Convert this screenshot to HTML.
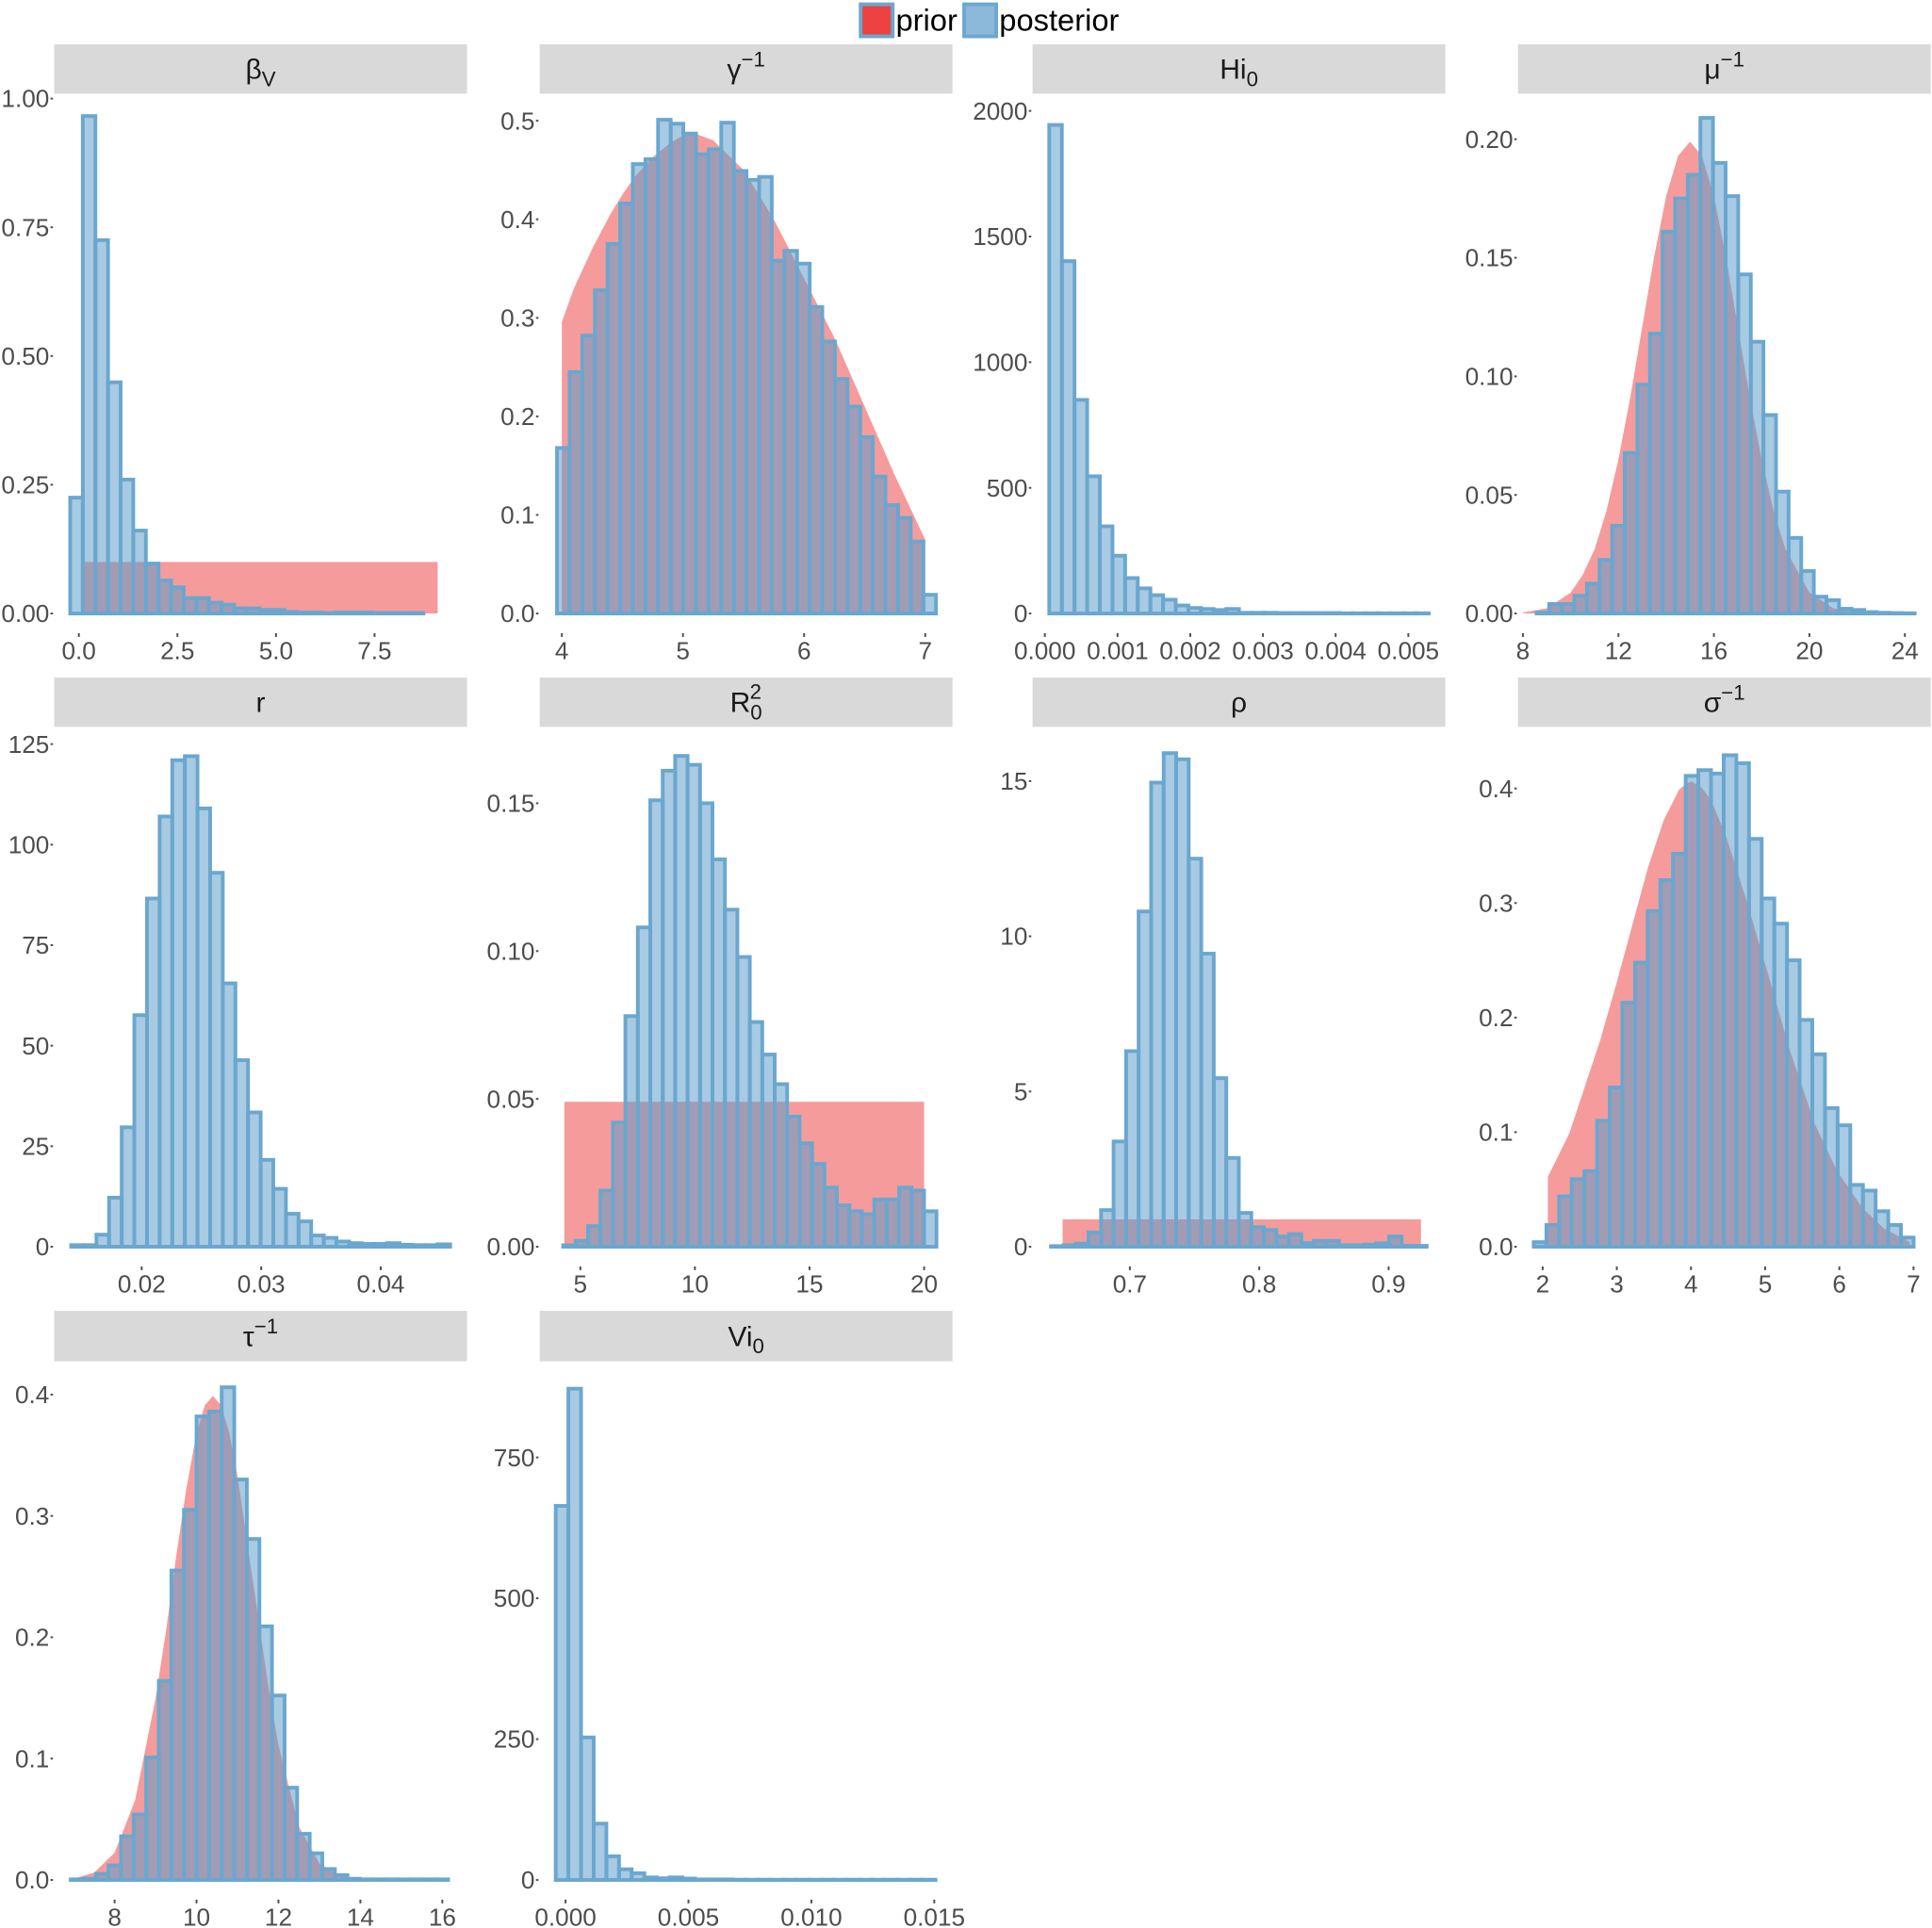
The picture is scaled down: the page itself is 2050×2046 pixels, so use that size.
<!DOCTYPE html>
<html><head><meta charset="utf-8"><style>
html,body{margin:0;padding:0;background:#fff;}
svg{display:block;}
text{font-family:"Liberation Sans",Arial,sans-serif;}
</style></head><body>
<svg id="chart" xmlns="http://www.w3.org/2000/svg" width="2050" height="2046" viewBox="0 0 1568 1565" preserveAspectRatio="none">
<g>
  <rect x="698.5" y="3.5" width="26" height="26" fill="#ee4242" stroke="#6ea7cf" stroke-width="3"/>
  <text x="727" y="25" font-size="25" fill="#000">prior</text>
  <rect x="782.5" y="3.5" width="26" height="26" fill="#8cb9da" stroke="#6ea7cf" stroke-width="3"/>
  <text x="811" y="25" font-size="25" fill="#000">posterior</text>
</g>
<g id="panels"></g>
</svg>
<script>
// ---- data: posterior histogram heights (30 bins each) ----
const betaCounts=[0.225,0.966,0.725,0.449,0.26,0.161,0.097,0.064,0.051,0.03,0.03,0.021,0.017,0.01,0.01,0.007,0.007,0.003,0.002,0.002,0.001,0.002,0.002,0.002,0.001,0.001,0.001,0.001,0,0];
const gammaCounts=[0.168,0.245,0.282,0.328,0.375,0.416,0.456,0.461,0.501,0.497,0.487,0.466,0.471,0.498,0.449,0.44,0.443,0.358,0.368,0.355,0.311,0.276,0.238,0.21,0.179,0.139,0.11,0.097,0.073,0.019];
const hiCounts=[1944,1402,850,546,347,230,141,100,73,55,32,22,18,14,18,3,3,3,2,2,2,2,2,1,1,1,1,1,1,1];
const muCounts=[0.0004,0.004,0.004,0.0075,0.0126,0.0226,0.037,0.0677,0.0965,0.118,0.161,0.175,0.185,0.209,0.19,0.176,0.143,0.1146,0.0837,0.0514,0.0319,0.0179,0.0071,0.0056,0.002,0.0015,0.0006,0.0003,0.0002,0.0001];
const rCounts=[0.4,0.4,3,12.2,29.7,57.6,86.6,107,121,122,109,93,65.5,46.4,33.4,21.6,14.4,8.2,6.3,2.8,2.2,1.3,0.9,0.7,0.7,0.9,0.5,0.4,0.4,0.6];
const r0Counts=[0.0005,0.002,0.007,0.019,0.042,0.078,0.108,0.151,0.161,0.166,0.163,0.150,0.131,0.114,0.098,0.076,0.065,0.055,0.044,0.035,0.028,0.020,0.014,0.012,0.011,0.016,0.016,0.020,0.019,0.012];
const rhoCounts=[0.02,0.05,0.1,0.46,1.18,3.39,6.3,10.8,14.95,15.9,15.7,12.5,9.44,5.43,2.86,1.09,0.63,0.54,0.33,0.41,0.12,0.19,0.19,0.05,0.05,0.07,0.11,0.33,0.03,0.03];
const sigmaCounts=[0.004,0.019,0.044,0.059,0.066,0.11,0.139,0.213,0.248,0.293,0.32,0.343,0.411,0.416,0.413,0.429,0.422,0.356,0.304,0.282,0.25,0.198,0.168,0.121,0.106,0.054,0.049,0.031,0.019,0.008];
const tauCounts=[0.0005,0.001,0.005,0.012,0.036,0.054,0.101,0.164,0.255,0.305,0.382,0.386,0.406,0.33,0.281,0.209,0.152,0.076,0.038,0.022,0.009,0.004,0.001,0.0005,0.0005,0.0005,0.0005,0.0005,0.0005,0.0005];
const viCounts=[664,872,253,100,42,19,12,4.5,3,4.5,2.5,1,1,1,0.5,0.5,0.5,0.5,0.5,0.5,0.5,0.5,0.5,0.5,0.5,0.5,0.5,0.5,0.5,0.5];
// ---- bin edges: start, width ----
const binStarts=[-0.22,3.96,0.00006,8.57,0.0141,4.25,0.639,1.88,6.93,-0.0004];
const binWidths=[0.32,0.1043,0.000174,0.528,0.001057,0.543,0.00968,0.1707,0.307,0.000515];
// ---- prior densities (x, y) ----
const betaPriorX=[0.1,9.1], betaPriorY=[0.1,0.1];
const gammaPriorX=[4,4.1,4.25,4.4,4.5,4.6,4.75,4.9,5,5.1,5.25,5.5,5.75,6,6.25,6.5,6.75,7];
const gammaPriorY=[0.296,0.33,0.37,0.405,0.425,0.443,0.463,0.478,0.485,0.487,0.48,0.45,0.4,0.34,0.28,0.21,0.14,0.075];
const muPriorX=[8,9,10,10.5,11,11.5,12,12.5,13,13.5,14,14.5,15,15.5,16,16.5,17,17.5,18,18.5,19,20,21,22];
const muPriorY=[0.0004,0.0022,0.0088,0.0162,0.027,0.0433,0.065,0.0913,0.121,0.1506,0.176,0.193,0.199,0.193,0.176,0.1506,0.121,0.0913,0.065,0.0433,0.027,0.0088,0.0022,0.0004];
const r0PriorX=[4.3,20], r0PriorY=[0.049,0.049];
const rhoPriorX=[0.648,0.925], rhoPriorY=[0.88,0.88];
const sigmaPriorX=[2.07,2.2,2.36,2.57,2.78,3.0,3.21,3.42,3.63,3.84,3.93,4.01,4.14,4.27,4.48,4.74,5.03,5.33,5.67,5.97,6.31,6.6,6.95];
const sigmaPriorY=[0.061,0.078,0.099,0.14,0.181,0.231,0.281,0.331,0.372,0.399,0.404,0.406,0.401,0.39,0.357,0.304,0.24,0.172,0.107,0.066,0.034,0.016,0.004];
const tauPriorX=[7,7.5,8,8.5,9,9.25,9.5,9.75,10,10.2,10.4,10.6,10.8,11,11.25,11.5,11.75,12,12.5,13,13.5,14];
const tauPriorY=[0.0012,0.006,0.0224,0.0656,0.1497,0.204,0.266,0.322,0.3683,0.391,0.399,0.391,0.3683,0.333,0.275,0.218,0.16,0.111,0.044,0.0136,0.0033,0.0006];
// ---- tick values and labels ----
const betaXTicks=[0,2.5,5,7.5], betaXLabels=['0.0','2.5','5.0','7.5'];
const betaYTicks=[0,0.25,0.5,0.75,1], betaYLabels=['0.00','0.25','0.50','0.75','1.00'];
const gammaXTicks=[4,5,6,7], gammaXLabels=['4','5','6','7'];
const gammaYTicks=[0,0.1,0.2,0.3,0.4,0.5], gammaYLabels=['0.0','0.1','0.2','0.3','0.4','0.5'];
const hiXTicks=[0,0.001,0.002,0.003,0.004,0.005], hiXLabels=['0.000','0.001','0.002','0.003','0.004','0.005'];
const hiYTicks=[0,500,1000,1500,2000], hiYLabels=['0','500','1000','1500','2000'];
const muXTicks=[8,12,16,20,24], muXLabels=['8','12','16','20','24'];
const muYTicks=[0,0.05,0.1,0.15,0.2], muYLabels=['0.00','0.05','0.10','0.15','0.20'];
const rXTicks=[0.02,0.03,0.04], rXLabels=['0.02','0.03','0.04'];
const rYTicks=[0,25,50,75,100,125], rYLabels=['0','25','50','75','100','125'];
const r0XTicks=[5,10,15,20], r0XLabels=['5','10','15','20'];
const r0YTicks=[0,0.05,0.1,0.15], r0YLabels=['0.00','0.05','0.10','0.15'];
const rhoXTicks=[0.7,0.8,0.9], rhoXLabels=['0.7','0.8','0.9'];
const rhoYTicks=[0,5,10,15], rhoYLabels=['0','5','10','15'];
const sigmaXTicks=[2,3,4,5,6,7], sigmaXLabels=['2','3','4','5','6','7'];
const sigmaYTicks=[0,0.1,0.2,0.3,0.4], sigmaYLabels=['0.0','0.1','0.2','0.3','0.4'];
const tauXTicks=[8,10,12,14,16], tauXLabels=['8','10','12','14','16'];
const tauYTicks=[0,0.1,0.2,0.3,0.4], tauYLabels=['0.0','0.1','0.2','0.3','0.4'];
const viXTicks=[0,0.005,0.01,0.015], viXLabels=['0.000','0.005','0.010','0.015'];
const viYTicks=[0,250,500,750], viYLabels=['0','250','500','750'];

// ---- layout (pixel geometry, not data) ----
const colX=[[44,379],[438,773],[838,1173],[1232,1567]];
const rowY=[[36,76,498],[550,590,1012],[1064,1105,1526]];
const NS='http://www.w3.org/2000/svg';
const panels=[
 {n:'beta',c:0,r:0,counts:betaCounts,px:betaPriorX,py:betaPriorY,xt:betaXTicks,xl:betaXLabels,yt:betaYTicks,yl:betaYLabels,xr:0,xp:64,xs:32,ys:418,title:[['β',''],['V','sub']]},
 {n:'gamma-inv',c:1,r:0,counts:gammaCounts,px:gammaPriorX,py:gammaPriorY,xt:gammaXTicks,xl:gammaXLabels,yt:gammaYTicks,yl:gammaYLabels,xr:4,xp:456,xs:98.3,ys:800,title:[['γ',''],['−1','sup']]},
 {n:'hi0',c:2,r:0,counts:hiCounts,px:null,py:null,xt:hiXTicks,xl:hiXLabels,yt:hiYTicks,yl:hiYLabels,xr:0,xp:848,xs:59000,ys:0.204,title:[['Hi',''],['0','sub']]},
 {n:'mu-inv',c:3,r:0,counts:muCounts,px:muPriorX,py:muPriorY,xt:muXTicks,xl:muXLabels,yt:muYTicks,yl:muYLabels,xr:8,xp:1236,xs:19.375,ys:1925,title:[['μ',''],['−1','sup']]},
 {n:'r',c:0,r:1,counts:rCounts,px:null,py:null,xt:rXTicks,xl:rXLabels,yt:rYTicks,yl:rYLabels,xr:0.02,xp:115,xs:9700,ys:3.264,title:[['r','']]},
 {n:'r0-squared',c:1,r:1,counts:r0Counts,px:r0PriorX,py:r0PriorY,xt:r0XTicks,xl:r0XLabels,yt:r0YTicks,yl:r0YLabels,xr:5,xp:471,xs:18.6,ys:2400,title:[['R',''],['0','subsup','2']]},
 {n:'rho',c:2,r:1,counts:rhoCounts,px:rhoPriorX,py:rhoPriorY,xt:rhoXTicks,xl:rhoXLabels,yt:rhoYTicks,yl:rhoYLabels,xr:0.7,xp:917,xs:1050,ys:25.2,title:[['ρ','']]},
 {n:'sigma-inv',c:3,r:1,counts:sigmaCounts,px:sigmaPriorX,py:sigmaPriorY,xt:sigmaXTicks,xl:sigmaXLabels,yt:sigmaYTicks,yl:sigmaYLabels,xr:2,xp:1252,xs:60.2,ys:930,title:[['σ',''],['−1','sup']]},
 {n:'tau-inv',c:0,r:2,counts:tauCounts,px:tauPriorX,py:tauPriorY,xt:tauXTicks,xl:tauXLabels,yt:tauYTicks,yl:tauYLabels,xr:8,xp:93,xs:33.25,ys:985,title:[['τ',''],['−1','sup']]},
 {n:'vi0',c:1,r:2,counts:viCounts,px:null,py:null,xt:viXTicks,xl:viXLabels,yt:viYTicks,yl:viYLabels,xr:0,xp:459,xs:19950,ys:0.4573,title:[['Vi',''],['0','sub']]}
];
const root=document.getElementById('panels');
function mk(tag,attrs,parent){const e=document.createElementNS(NS,tag);for(const k in attrs)e.setAttribute(k,attrs[k]);parent.appendChild(e);return e;}
panels.forEach((p,i)=>{
  const [xl,xr]=colX[p.c]; const [st,sb,y0]=rowY[p.r];
  const X=v=>p.xp+(v-p.xr)*p.xs;
  const Y=v=>y0-v*p.ys;
  const g=mk('g',{},root);
  
  
  const strip=mk('rect',{x:xl,y:st,width:xr-xl,height:sb-st,fill:'#d9d9d9'},g);
  
  
  const t=mk('text',{x:(xl+xr)/2,y:(st+sb)/2+8,'font-size':23,fill:'#1a1a1a','text-anchor':'middle'},g);
  
  
  p.title.forEach(part=>{
    if(part[1]===''){const s=mk('tspan',{},t);s.textContent=part[0];}
    else if(part[1]==='sub'){const s=mk('tspan',{dy:6,'font-size':17},t);s.textContent=part[0];}
    else if(part[1]==='sup'){const s=mk('tspan',{dy:-10,'font-size':17},t);s.textContent=part[0];}
    else {const s=mk('tspan',{dy:6,'font-size':17},t);s.textContent=part[0];
          const s2=mk('tspan',{dx:-10,dy:-17,'font-size':17},t);s2.textContent=part[2];}
  });
  p.yt.forEach((v,j)=>{
    const yy=Y(v);
    const lab=mk('text',{x:xl-4,y:yy+7,'font-size':20,fill:'#4d4d4d','text-anchor':'end'},g);
    
    
    lab.textContent=p.yl[j];
    mk('line',{x1:xl-3,x2:xl-1,y1:yy,y2:yy,stroke:'#4d4d4d','stroke-width':1.5},g);
  });
  p.xt.forEach((v,j)=>{
    const xx=X(v);
    const lab=mk('text',{x:xx,y:y0+37,'font-size':20,fill:'#4d4d4d','text-anchor':'middle'},g);
    
    
    lab.textContent=p.xl[j];
    mk('line',{x1:xx,x2:xx,y1:y0+16,y2:y0+19,stroke:'#4d4d4d','stroke-width':1.5},g);
  });
  if(p.px){
    let d='M'+X(p.px[0])+','+y0;
    p.px.forEach((v,j)=>{d+=' L'+X(v)+','+Y(p.py[j]);});
    d+=' L'+X(p.px[p.px.length-1])+','+y0+' Z';
    const pr=mk('path',{d:d,fill:'rgba(235,55,55,0.5)'},g);
    
    
  }
  const bs=binStarts[i], bw=binWidths[i];
  p.counts.forEach((c,j)=>{
    const x1=X(bs+j*bw), x2=X(bs+(j+1)*bw);
    const b=mk('rect',{x:x1,y:Y(c),width:x2-x1,height:Math.max(0,y0-Y(c)),fill:'rgba(90,155,202,0.53)',stroke:'#6aa7cf','stroke-width':3},g);
    
    
  });
});
</script>
</body></html>
